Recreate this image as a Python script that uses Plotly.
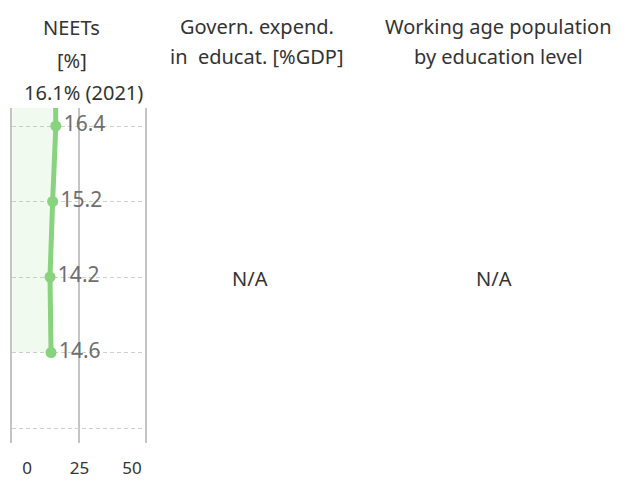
import plotly.graph_objects as go

# Data
years = [2021, 2020, 2019, 2018, 2017]
neets = [16.1, 16.4, 15.2, 14.2, 14.6]
grid_years = [2016, 2017, 2018, 2019, 2020]
x_ticks = [0, 25, 50]
x_tick_labels = ["0", "25", "50"]
col_titles = [
    ["NEETs", "[%]", f"{neets[0]}% ({years[0]})"],
    ["Govern. expend.", "in  educat. [%GDP]"],
    ["Working age population", "by education level"],
]
na_text = "N/A"

W, H = 629, 481
FONT = "Noto Sans"
GREEN = "#88d37d"
GRID = "#c4c4c4"

def px(xp):
    return xp / W

def py(yp):
    return 1 - yp / H

x0p, x1p = 12.3, 145.0
ytop, ybot = 108.0, 443.0

# y scale: 2020 at 126px, 2016 at 428px
ppy = (428 - 126) / 4
yr_top = 2020 + (126 - ytop) / ppy
yr_bot = 2016 - (ybot - 428) / ppy

fig = go.Figure()
fig.add_trace(go.Scatter(
    x=neets, y=years,
    mode="lines+markers+text",
    text=[f"{v:.1f}" for v in neets],
    textposition="middle right",
    textfont=dict(family=FONT, size=21, color="#6e6e6e"),
    line=dict(color=GREEN, width=5),
    marker=dict(color=GREEN, size=11),
    fill="tozerox",
    fillcolor="rgba(136,211,125,0.12)",
    cliponaxis=True,
    hoverinfo="skip",
    showlegend=False,
))
# carrier for the tick-label axis (no visible marks)
fig.add_trace(go.Scatter(
    x=x_ticks, y=[None] * len(x_ticks), xaxis="x2", yaxis="y",
    mode="markers", hoverinfo="skip", showlegend=False,
))

# tick label axis scale (labels placed slightly off grid lines as in reference)
lab_px = [27, 81, 132]
s = (lab_px[2] - lab_px[0]) / (x_ticks[2] - x_ticks[0])
x2_lo = x_ticks[0] - (lab_px[0] - x0p) / s
x2_hi = x_ticks[2] + (x1p - lab_px[2]) / s

fig.update_layout(
    width=W, height=H,
    margin=dict(l=0, r=0, t=0, b=0),
    paper_bgcolor="white", plot_bgcolor="white",
    xaxis=dict(
        domain=[px(x0p), px(x1p)],
        range=[0, 50],
        tickvals=x_ticks,
        showticklabels=False,
        showgrid=True, gridcolor=GRID, gridwidth=1.5,
        zeroline=False,
        showline=False, fixedrange=True,
    ),
    xaxis2=dict(
        domain=[px(x0p), px(x1p)],
        overlaying="x", anchor="y", side="bottom",
        range=[x2_lo, x2_hi],
        tickvals=x_ticks, ticktext=x_tick_labels,
        tickfont=dict(family=FONT, size=17, color="#333333"),
        showgrid=False, zeroline=False, showline=False,
        ticks="", ticklabelstandoff=13, fixedrange=True,
    ),
    yaxis=dict(
        domain=[py(ybot), py(ytop)],
        range=[yr_bot, yr_top],
        tickvals=grid_years,
        showticklabels=False,
        showgrid=True, gridcolor="#cfcfcf", gridwidth=1, griddash="4px,3px",
        zeroline=False,
        showline=True, mirror=True, linecolor=GRID, linewidth=1.5,
        fixedrange=True,
    ),
)

# Column titles
centers = [[71, 72, 83], [257, 257], [498, 498]]
line_y = [[27, 60, 93], [26, 57], [26, 57]]
for ci, lines in enumerate(col_titles):
    for li, t in enumerate(lines):
        fig.add_annotation(
            x=px(centers[ci][li]), y=py(line_y[ci][li]), xref="paper", yref="paper",
            text=t, showarrow=False, xanchor="center", yanchor="middle",
            font=dict(family=FONT, size=20, color="#333333"),
            borderpad=0,
        )

for cx in [250, 494]:
    fig.add_annotation(
        x=px(cx), y=py(278), xref="paper", yref="paper",
        text=na_text, showarrow=False, xanchor="center", yanchor="middle",
        font=dict(family=FONT, size=20, color="#333333"),
    )

fig.write_html("out.html", config={"displayModeBar": False},
               post_script="document.body.style.margin='0px';")
